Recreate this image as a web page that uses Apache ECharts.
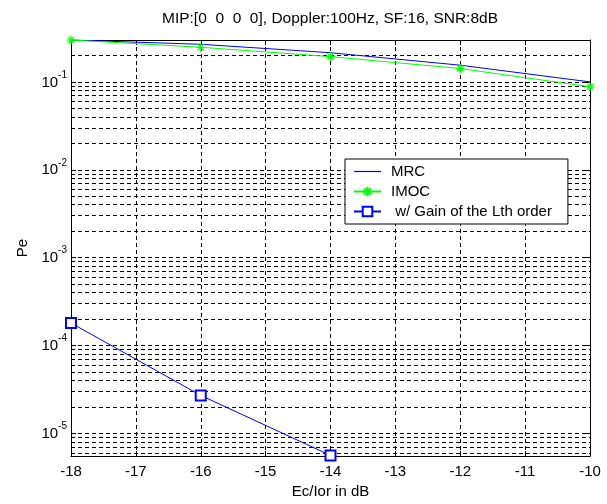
<!DOCTYPE html>
<html>
<head>
<meta charset="utf-8">
<script src="https://cdn.jsdelivr.net/npm/echarts@6/dist/echarts.min.js"></script>
<style>
html,body{margin:0;padding:0;background:#fff;}
#c{width:607px;height:504px;}
</style>
</head>
<body>
<div id="c"></div>
<script>
// ---- data ----
const titleText = 'MIP:[0  0  0  0], Doppler:100Hz, SF:16, SNR:8dB';
const xTicks = [-18, -17, -16, -15, -14, -13, -12, -11, -10];
const xMRC = [-18, -16, -14, -12, -10];
const MRC = [0.3, 0.268, 0.215, 0.155, 0.1];
const xIMOC = [-18, -16, -14, -12, -10];
const IMOC = [0.3, 0.248, 0.194, 0.142, 0.088];
const xGain = [-18, -16, -14];
const gain = [1.8e-4, 2.7e-5, 5.6e-6];
const seriesNames = ['MRC', 'IMOC', ' w/ Gain of the Lth order'];
const yMin = 5.5e-6, yMax = 0.3;

// minor log grid values (2..9 × 10^d)
const minorGrid = [];
for (let d = -6; d <= -1; d++) {
  for (let k = 2; k <= 9; k++) {
    const v = k * Math.pow(10, d);
    if (v > yMin && v < yMax) minorGrid.push(v);
  }
}

const pairs = (xs, ys) => xs.map((x, i) => [x, ys[i]]);
const gridDash = { color: '#000', width: 1, type: [4, 3] };
const font = 'Liberation Sans, Arial, sans-serif';
const FS = 15;

const yLabelFmt = function (v) {
  const l = Math.log10(v);
  const e = Math.round(l);
  if (Math.abs(l - e) > 1e-6) return '';
  return '{b|10}{s|' + e + '}';
};

const chart = echarts.init(document.getElementById('c'), null, { renderer: 'canvas' });
chart.setOption({
  animation: false,
  backgroundColor: '#fff',
  textStyle: { fontFamily: font },
  title: {
    text: titleText,
    left: 330,
    top: 11,
    padding: 0,
    textAlign: 'center',
    textStyle: { fontSize: 15.5, fontWeight: 'normal', color: '#000', fontFamily: font }
  },
  grid: { left: 71, right: 17, top: 40, bottom: 44, containLabel: false },
  legend: {
    data: [
      { name: seriesNames[0], icon: 'path://M0,0L27,0L27,1.2L0,1.2Z', itemStyle: { color: '#0000ff' } },
      { name: seriesNames[1] },
      { name: seriesNames[2] }
    ],
    z: 20,
    orient: 'vertical',
    left: 345,
    top: 159,
    padding: [5, 16, 5, 8],
    itemGap: 5,
    itemWidth: 27,
    itemHeight: 12,
    borderColor: '#000',
    borderWidth: 1,
    backgroundColor: '#fff',
    borderRadius: 0,
    textStyle: { fontSize: FS, color: '#000', fontFamily: font, padding: [0, 0, 0, 5] }
  },
  xAxis: [{
    type: 'value',
    min: -18, max: -10, interval: 1,
    axisLine: { show: true, lineStyle: { color: '#000', width: 1 } },
    axisTick: { show: true, inside: true, length: 5, lineStyle: { color: '#000' } },
    axisLabel: { color: '#000', fontSize: FS, margin: 8, fontFamily: font },
    splitLine: { show: true, lineStyle: gridDash },
    name: 'Ec/Ior in dB',
    nameLocation: 'middle',
    nameGap: 27,
    nameTextStyle: { color: '#000', fontSize: FS, fontFamily: font }
  }, {
    type: 'value', position: 'top',
    min: -18, max: -10, interval: 1,
    axisLine: { show: true, onZero: false, lineStyle: { color: '#000', width: 1 } },
    axisTick: { show: true, inside: true, length: 5, lineStyle: { color: '#000' } },
    axisLabel: { show: false },
    splitLine: { show: false }
  }],
  yAxis: [{
    type: 'log', logBase: 10,
    min: yMin, max: yMax,
    axisLine: { show: true, lineStyle: { color: '#000', width: 1 } },
    axisTick: { show: true, inside: true, length: 5, lineStyle: { color: '#000' } },
    axisLabel: {
      formatter: yLabelFmt,
      margin: 4,
      color: '#000',
      rich: {
        b: { fontSize: FS, color: '#000', fontFamily: font, padding: [4, 0, 4, 0], verticalAlign: 'bottom' },
        s: { fontSize: 10, color: '#000', fontFamily: font, padding: [0, 0, 14, 0], verticalAlign: 'bottom' }
      }
    },
    splitLine: { show: true, lineStyle: gridDash },
    name: 'Pe',
    nameLocation: 'middle',
    nameGap: 41,
    nameRotate: 90,
    nameTextStyle: { color: '#000', fontSize: FS, fontFamily: font }
  }, {
    type: 'log', logBase: 10, position: 'right',
    min: yMin, max: yMax,
    axisLine: { show: true, onZero: false, lineStyle: { color: '#000', width: 1 } },
    axisTick: { show: true, inside: true, length: 5, lineStyle: { color: '#000' } },
    axisLabel: { show: false },
    splitLine: { show: false }
  }],
  series: [
    {
      name: 'minorgrid',
      type: 'line',
      data: [],
      silent: true,
      z: 1,
      markLine: {
        silent: true,
        z: 1,
        symbol: 'none',
        precision: 12,
        animation: false,
        label: { show: false },
        lineStyle: gridDash,
        emphasis: { disabled: true },
        data: minorGrid.map(v => ({ yAxis: v }))
      }
    },
    {
      name: seriesNames[0],
      type: 'line',
      data: pairs(xMRC, MRC),
      symbol: 'none',
      showSymbol: false,
      clip: false,
      z: 5,
      lineStyle: { color: '#0000ff', width: 1 },
      itemStyle: { color: '#0000ff' }
    },
    {
      name: seriesNames[1],
      type: 'line',
      data: pairs(xIMOC, IMOC),
      symbol: 'path://M5,0L5,10M0,5L10,5M1.5,1.5L8.5,8.5M1.5,8.5L8.5,1.5',
      symbolSize: 9,
      clip: false,
      z: 6,
      lineStyle: { color: '#00ff00', width: 1 },
      itemStyle: { color: '#00ff00', borderColor: '#00ff00', borderWidth: 1.2 }
    },
    {
      name: seriesNames[2],
      type: 'line',
      data: pairs(xGain, gain),
      symbol: 'emptyRect',
      symbolSize: 10,
      clip: false,
      z: 6,
      lineStyle: { color: '#0000ff', width: 1 },
      itemStyle: { color: '#0000ff', borderColor: '#0000ff', borderWidth: 1 }
    }
  ]
});
</script>
</body>
</html>
